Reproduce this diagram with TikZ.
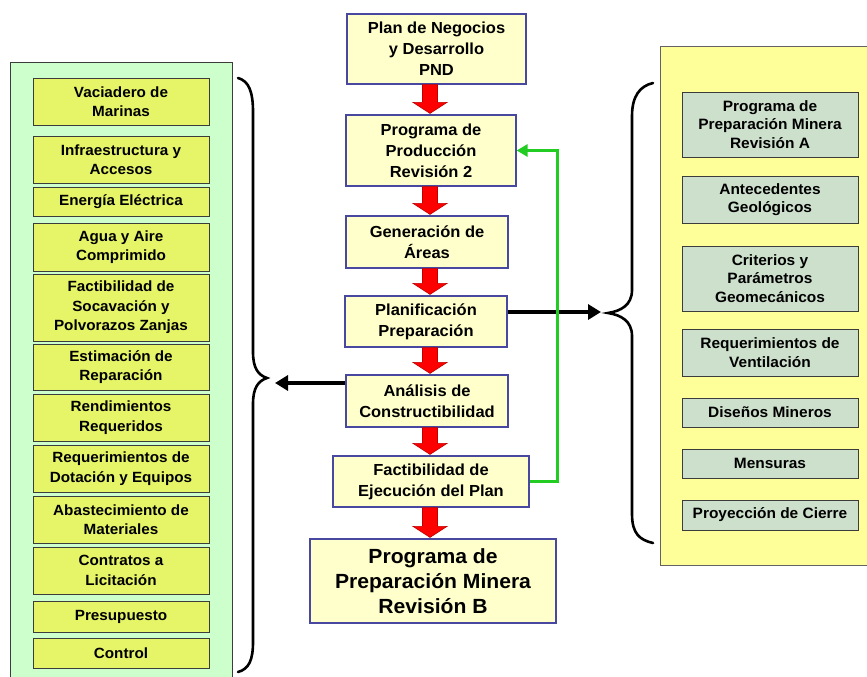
\documentclass[tikz,border=0pt]{standalone}
\usepackage{fontspec}
\setmainfont{Liberation Sans}[FakeStretch=1.03]
\usetikzlibrary{arrows.meta,calc}
\definecolor{cfill}{RGB}{255,255,204}
\definecolor{cborder}{RGB}{72,72,160}
\definecolor{lpanel}{RGB}{204,255,204}
\definecolor{lfill}{RGB}{230,244,104}
\definecolor{rpanel}{RGB}{255,255,153}
\definecolor{rfill}{RGB}{204,224,204}
\definecolor{dborder}{RGB}{60,60,60}
\definecolor{fbgreen}{RGB}{34,204,34}
\definecolor{arrred}{RGB}{255,0,0}
\definecolor{arrdark}{RGB}{190,0,0}
\tikzset{
  cbox/.style={draw=cborder, fill=cfill, line width=1.2pt, inner sep=0pt, align=center,
    font=\fontsize{16}{21}\selectfont\bfseries},
  lbox/.style={draw=dborder, fill=lfill, line width=1pt, inner sep=0pt, align=center,
    minimum width=176pt, font=\fontsize{14.8}{19.5}\selectfont\bfseries},
  rbox/.style={draw=dborder, fill=rfill, line width=1pt, inner sep=0pt, align=center,
    minimum width=176pt, font=\fontsize{15}{18.5}\selectfont\bfseries},
  bracestyle/.style={line width=2.6pt, line cap=round},
  blackarrow/.style={line width=4pt, -{Triangle[width=15pt,length=13pt]}},
  greenarrow/.style={draw=fbgreen, line width=3pt, -{Triangle[width=12pt,length=11pt]}},
}
\newcommand{\blockarr}[2]{%
  \filldraw[fill=arrred, draw=arrdark, line width=0.6pt]
    let \p1=(#1.south -| ax), \p2=(#2.north -| ax) in
    (\x1-7.5pt,\y1) -- (\x1+7.5pt,\y1) -- (\x1+7.5pt,\y2+12pt) -- (\x1+17pt,\y2+12pt)
    -- (\x1,\y2+1pt) -- (\x1-17pt,\y2+12pt) -- (\x1-7.5pt,\y2+12pt) -- cycle;}
\begin{document}
\begin{tikzpicture}[x=1pt,y=-1pt]
\useasboundingbox (0,0) rectangle (867,677);
\fill[white] (0,0) rectangle (867,677);
% panels
\filldraw[fill=lpanel, draw=dborder, line width=0.8pt] (10,62) rectangle (232,690);
\filldraw[fill=rpanel, draw=dborder!80, line width=0.8pt] (660,46) rectangle (875,565);
% center column
\node[cbox, minimum width=179pt, minimum height=70pt] (pnd) at (436.5,49) {Plan de Negocios\\y Desarrollo\\PND};
\node[cbox, minimum width=170pt, minimum height=71pt] (prod) at (431,150.5) {Programa de\\Producción\\Revisión 2};
\node[cbox, minimum width=162pt, minimum height=52pt] (gen) at (427,242) {Generación de\\Áreas};
\node[cbox, minimum width=162pt, minimum height=51pt] (plan) at (426,321.5) {Planificación\\Preparación};
\node[cbox, minimum width=162pt, minimum height=52pt] (anal) at (427,401) {Análisis de\\Constructibilidad};
\node[cbox, minimum width=196pt, minimum height=51pt] (fact) at (431,481.5) {Factibilidad de\\Ejecución del Plan};
\node[cbox, minimum width=246pt, minimum height=84pt, font=\fontsize{20.5}{25}\selectfont\bfseries] (final) at (433,581) {Programa de\\Preparación Minera\\Revisión B};
\coordinate (ax) at (430,0);
\blockarr{pnd}{prod}
\blockarr{prod}{gen}
\blockarr{gen}{plan}
\blockarr{plan}{anal}
\blockarr{anal}{fact}
\blockarr{fact}{final}
% left boxes
\node[lbox, minimum height=47pt] (l1) at (121,101.5) {Vaciadero de\\Marinas};
\node[lbox, minimum height=47pt] (l2) at (121,159.5) {Infraestructura y\\Accesos};
\node[lbox, minimum height=29pt] (l3) at (121,201.5) {Energía Eléctrica};
\node[lbox, minimum height=48pt] (l4) at (121,247) {Agua y Aire\\Comprimido};
\node[lbox, minimum height=67pt] (l5) at (121,307.5) {Factibilidad de\\Socavación y\\Polvorazos Zanjas};
\node[lbox, minimum height=46pt] (l6) at (121,367) {Estimación de\\Reparación};
\node[lbox, minimum height=47pt] (l7) at (121,417.5) {Rendimientos\\Requeridos};
\node[lbox, minimum height=47pt] (l8) at (121,468.5) {Requerimientos de\\Dotación y Equipos};
\node[lbox, minimum height=47pt] (l9) at (121,519.5) {Abastecimiento de\\Materiales};
\node[lbox, minimum height=47pt] (l10) at (121,570.5) {Contratos a\\Licitación};
\node[lbox, minimum height=31pt] (l11) at (121,616.5) {Presupuesto};
\node[lbox, minimum height=30pt] (l12) at (121,653) {Control};
% right boxes
\node[rbox, minimum height=65pt] (r1) at (770,124.5) {Programa de\\Preparación Minera\\Revisión A};
\node[rbox, minimum height=47pt] (r2) at (770,199.5) {Antecedentes\\Geológicos};
\node[rbox, minimum height=65pt] (r3) at (770,278.5) {Criterios y\\Parámetros\\Geomecánicos};
\node[rbox, minimum height=47pt] (r4) at (770,352.5) {Requerimientos de\\Ventilación};
\node[rbox, minimum height=29pt] (r5) at (770,412.5) {Diseños Mineros};
\node[rbox, minimum height=29pt] (r6) at (770,463.5) {Mensuras};
\node[rbox, minimum height=30pt] (r7) at (770,515) {Proyección de Cierre};
% braces
\draw[bracestyle] (238,78) .. controls (249,81) and (253,92) .. (253,112) -- (253,352)
  .. controls (253,368) and (258,375) .. (267,378)
  .. controls (258,381) and (253,388) .. (253,404) -- (253,642)
  .. controls (253,660) and (249,669) .. (238,672);
\draw[bracestyle] (653,83) .. controls (640,86) and (632,96) .. (632,116) -- (632,290)
  .. controls (632,305) and (621,311) .. (608,313)
  .. controls (621,315) and (632,321) .. (632,336) -- (632,514)
  .. controls (632,534) and (640,540) .. (653,543);
% black arrows
\coordinate (larr) at (275,383);
\coordinate (rarr) at (601,312);
\draw[blackarrow] (anal.west |- larr) -- (larr);
\draw[blackarrow] (plan.east |- rarr) -- (rarr);
% green feedback
\coordinate (gx) at (557,0);
\draw[greenarrow] (fact.east) -| (gx |- prod.east) -- (prod.east);
\end{tikzpicture}
\end{document}
